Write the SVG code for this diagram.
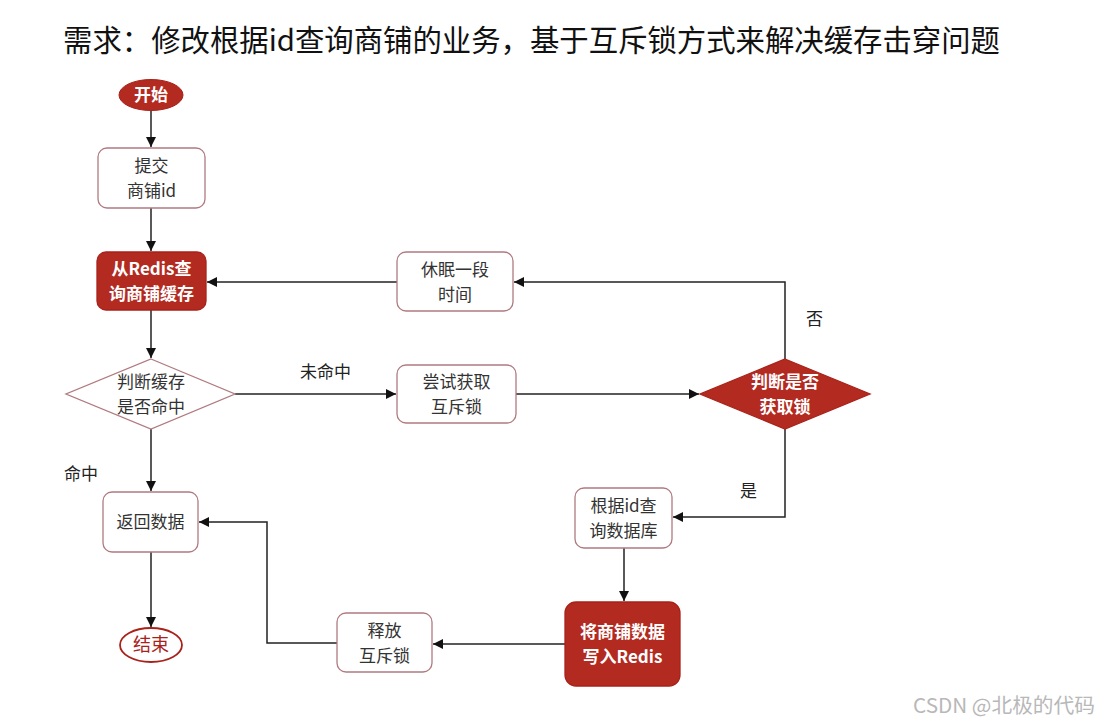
<svg xmlns="http://www.w3.org/2000/svg" width="1107" height="724" viewBox="0 0 1107 724">
<style>
text{font-family:"Noto Sans CJK SC","Noto Sans",sans-serif;}
.t{font-size:17px;fill:#333;text-anchor:middle;}
.tw{font-size:17px;fill:#fff;text-anchor:middle;font-weight:bold;}
.lb{font-size:17px;fill:#222;}
.box{fill:#fff;stroke:#b07a80;stroke-width:1.3;}
.rbox{fill:#b32a20;stroke:#a8221a;stroke-width:1.3;}
.ln{fill:none;stroke:#222;stroke-width:1.5;}
</style>
<defs>
<marker id="ah" viewBox="0 0 10 10" refX="10" refY="5" markerWidth="10" markerHeight="10" markerUnits="userSpaceOnUse" orient="auto">
<path d="M0,0 L10,5 L0,10 z" fill="#111"/>
</marker>
</defs>
<rect width="1107" height="724" fill="#fff"/>
<text x="63" y="51" font-size="30" fill="#111" textLength="937" lengthAdjust="spacingAndGlyphs">需求：修改根据id查询商铺的业务，基于互斥锁方式来解决缓存击穿问题</text>

<g id="connectors">
<path class="ln" d="M151,111 V147" marker-end="url(#ah)"/>
<path class="ln" d="M151,208 V251" marker-end="url(#ah)"/>
<path class="ln" d="M151,310 V358" marker-end="url(#ah)"/>
<path class="ln" d="M235,394 H396" marker-end="url(#ah)"/>
<path class="ln" d="M516,394 H699" marker-end="url(#ah)"/>
<path class="ln" d="M785,359 V282 H514" marker-end="url(#ah)"/>
<path class="ln" d="M397,282 H207" marker-end="url(#ah)"/>
<path class="ln" d="M785,429 V517 H673" marker-end="url(#ah)"/>
<path class="ln" d="M624,548 V601" marker-end="url(#ah)"/>
<path class="ln" d="M565,644 H433" marker-end="url(#ah)"/>
<path class="ln" d="M337,643 H267 V522 H199" marker-end="url(#ah)"/>
<path class="ln" d="M151,429 V491" marker-end="url(#ah)"/>
<path class="ln" d="M151,552 V627" marker-end="url(#ah)"/>
<text class="lb" x="300" y="378">未命中</text>
<text class="lb" x="806" y="325">否</text>
<text class="lb" x="740" y="497">是</text>
<text class="lb" x="64" y="480">命中</text>
</g>

<g id="start">
<ellipse cx="151" cy="95" rx="32" ry="15.5" fill="#b32a20" stroke="#a8221a"/>
<text class="tw" x="151" y="101">开始</text>
</g>
<g id="submit">
<rect class="box" x="98" y="148" width="107" height="60" rx="9"/>
<text class="t"><tspan x="151.5" y="172">提交</tspan><tspan x="151.5" y="197">商铺id</tspan></text>
</g>
<g id="query-redis">
<rect class="rbox" x="97" y="252" width="109" height="58" rx="9"/>
<text class="tw"><tspan x="151.5" y="275">从Redis查</tspan><tspan x="151.5" y="300">询商铺缓存</tspan></text>
</g>
<g id="hit-check">
<polygon points="151,359 235,394 151,429 66,394" fill="#fff" stroke="#b07a80" stroke-width="1.3"/>
<text class="t"><tspan x="151" y="388">判断缓存</tspan><tspan x="151" y="413">是否命中</tspan></text>
</g>
<g id="try-lock">
<rect class="box" x="397" y="365" width="119" height="58" rx="9"/>
<text class="t"><tspan x="456.5" y="388">尝试获取</tspan><tspan x="456.5" y="413">互斥锁</tspan></text>
</g>
<g id="lock-check">
<polygon points="785,359 870,394 785,429 700,394" fill="#b32a20" stroke="#a8221a" stroke-width="1.3"/>
<text class="tw"><tspan x="785" y="388">判断是否</tspan><tspan x="785" y="413">获取锁</tspan></text>
</g>
<g id="sleep">
<rect class="box" x="397" y="252" width="116" height="59" rx="9"/>
<text class="t"><tspan x="455" y="275.5">休眠一段</tspan><tspan x="455" y="300.5">时间</tspan></text>
</g>
<g id="query-db">
<rect class="box" x="575" y="488" width="97" height="60" rx="9"/>
<text class="t"><tspan x="623.5" y="512">根据id查</tspan><tspan x="623.5" y="537">询数据库</tspan></text>
</g>
<g id="write-redis">
<rect class="rbox" x="565" y="602" width="115" height="84" rx="11"/>
<text class="tw"><tspan x="622.5" y="638">将商铺数据</tspan><tspan x="622.5" y="663">写入Redis</tspan></text>
</g>
<g id="unlock">
<rect class="box" x="337" y="613" width="95" height="59" rx="9"/>
<text class="t"><tspan x="384.5" y="636.5">释放</tspan><tspan x="384.5" y="661.5">互斥锁</tspan></text>
</g>
<g id="return">
<rect class="box" x="103" y="492" width="95" height="60" rx="9"/>
<text class="t" x="150.5" y="528">返回数据</text>
</g>
<g id="end">
<ellipse cx="151" cy="645" rx="31" ry="17" fill="#fff" stroke="#a8221a" stroke-width="1.8"/>
<text x="151" y="651" font-size="18" fill="#a8221a" text-anchor="middle">结束</text>
</g>
<text x="913" y="713" font-size="20" fill="#b8b8b8" textLength="182" lengthAdjust="spacingAndGlyphs">CSDN @北极的代码</text>
</svg>
